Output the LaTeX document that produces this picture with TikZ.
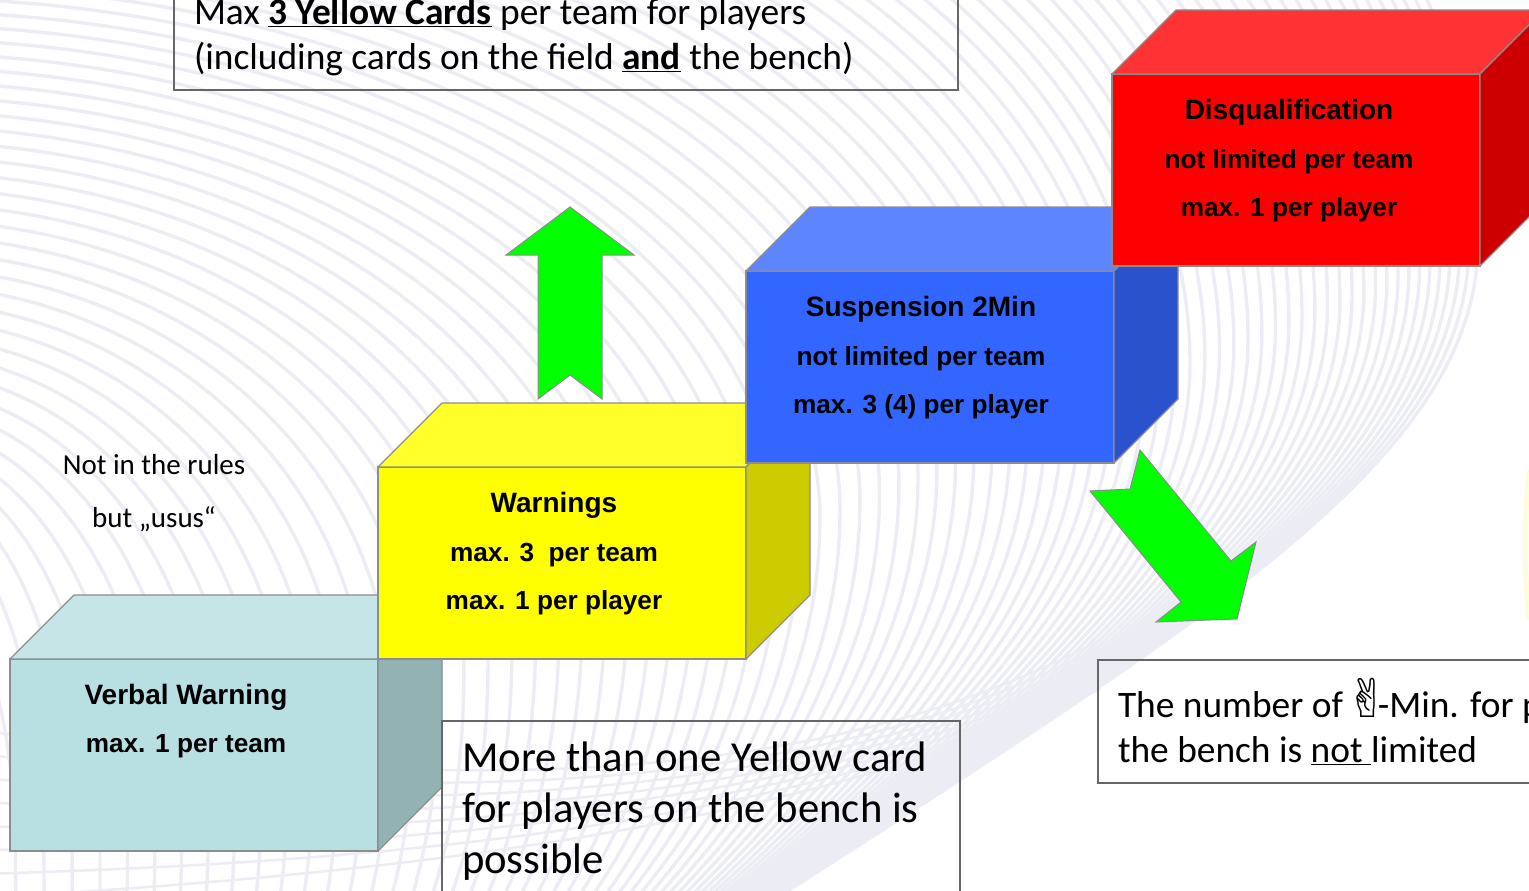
\documentclass[tikz,border=0pt]{standalone}
\usepackage{fontspec}
\setmainfont{Carlito}
\newfontfamily\arialfont{Liberation Sans}
\newfontfamily\handfont{DejaVu Sans}
\usepackage{tikz}
\usetikzlibrary{positioning, calc}
\definecolor{stripe}{HTML}{ECECF4}
\definecolor{edge}{HTML}{8C8C8C}
\definecolor{noteedge}{HTML}{666666}
\definecolor{verbalfront}{HTML}{B8DFE2}
\definecolor{verbaltop}{HTML}{C6E5E7}
\definecolor{verbalside}{HTML}{93B2B4}
\definecolor{warnfront}{HTML}{FFFF00}
\definecolor{warntop}{HTML}{FFFF29}
\definecolor{warnside}{HTML}{CCCC00}
\definecolor{suspfront}{HTML}{3366FF}
\definecolor{susptop}{HTML}{5C85FF}
\definecolor{suspside}{HTML}{2952CC}
\definecolor{disqfront}{HTML}{FF0000}
\definecolor{disqtop}{HTML}{FF3333}
\definecolor{disqside}{HTML}{CC0000}
\definecolor{arrowgreen}{HTML}{00FF00}
\definecolor{glow}{HTML}{FFFBDD}
\begin{document}
\begin{tikzpicture}[x=1pt, y=-1pt]
        \tikzstyle{cube} = [rectangle, minimum width=368pt, minimum height=192pt, inner sep=0pt, outer sep=0pt, draw=edge, line width=1.2pt]
        \tikzstyle{face} = [draw=edge, line width=1.2pt, line join=round]
        \tikzstyle{cubetext} = [align=center, inner sep=0pt, font=\arialfont\bfseries\fontsize{26.2}{48.5}\selectfont]
        \tikzstyle{note} = [rectangle, draw=noteedge, line width=1.3pt, inner xsep=20pt, align=flush left, outer sep=0pt]
        \tikzstyle{greenarrow} = [fill=arrowgreen, draw=edge, line width=1pt, line join=miter]
        \tikzstyle{swoosh} = [draw=stripe, line width=3.4pt]
        \newcommand{\headfont}{\fontsize{28}{48.5}\selectfont}

        \useasboundingbox (0,0) rectangle (1529,891);
        \clip (0,0) rectangle (1529,891);

        % background
        \foreach \i in {80,79,...,0} {
            \pgfmathsetmacro{\g}{9*\i+0.125*\i*\i}
            \pgfmathsetmacro{\Rx}{1478-\g}
            \pgfmathsetmacro{\Ry}{242+0.42*\g}
            \pgfmathsetmacro{\Ty}{-450+0.66*\g}
            \pgfmathsetmacro{\Tx}{min(max(-100,678-1.2*\g),\Rx-150)}
            \pgfmathsetmacro{\Ex}{800-0.75*\g}
            \pgfmathsetmacro{\Ey}{883+0.45*\g}
            \pgfmathsetmacro{\L}{0.55*veclen(\Rx-\Ex,\Ey-\Ry)}
            \draw [swoosh] (\Tx,\Ty) .. controls ({\Tx+0.55*(\Rx-\Tx)},\Ty) and (\Rx,{\Ry-0.55*(\Ry-\Ty)}) .. (\Rx,\Ry)
                .. controls (\Rx,{\Ry+0.32*(\Ey-\Ry)}) and ({\Ex+0.84*\L},{\Ey-0.54*\L}) .. (\Ex,\Ey);
        }
        \foreach \j in {0,...,7} {
            \draw [swoosh, line width=2.5pt] (1100,{640+7*\j}) .. controls (800,{800+4*\j}) and (400,{790+12*\j}) .. (-20,{730+24*\j});
        }
        \draw [draw=glow, line width=5pt] (1529,470) .. controls (1524,520) and (1524,570) .. (1529,620);

        % cubes
        \node (verbal) [cube, fill=verbalfront, anchor=north west] at (10,659) {};
        \fill [verbaltop, face] (verbal.north west) -- ++(64,-64) -- ++(368,0) -- (verbal.north east) -- cycle;
        \fill [verbalside, face] (verbal.north east) -- ++(64,-64) -- ++(0,192) -- (verbal.south east) -- cycle;

        \node (warn) [cube, fill=warnfront, anchor=south west] at (verbal.north east) {};
        \fill [warntop, face] (warn.north west) -- ++(64,-64) -- ++(368,0) -- (warn.north east) -- cycle;
        \fill [warnside, face] (warn.north east) -- ++(64,-64) -- ++(0,192) -- (warn.south east) -- cycle;

        \node (susp) [cube, fill=suspfront, anchor=south west, yshift=4pt] at (warn.north east) {};
        \fill [susptop, face] (susp.north west) -- ++(64,-64) -- ++(368,0) -- (susp.north east) -- cycle;
        \fill [suspside, face] (susp.north east) -- ++(64,-64) -- ++(0,192) -- (susp.south east) -- cycle;

        \node (disq) [cube, fill=disqfront, anchor=south west, xshift=-2pt, yshift=5pt] at (susp.north east) {};
        \fill [disqtop, face] (disq.north west) -- ++(64,-64) -- ++(368,0) -- (disq.north east) -- cycle;
        \fill [disqside, face] (disq.north east) -- ++(64,-64) -- ++(0,192) -- (disq.south east) -- cycle;

        \node (verbaltext) [cubetext] at (186,721) {{\headfont Verbal Warning}\\max. 1 per team};
        \node (warntext) [cubetext] at (554,554) {{\headfont Warnings}\\max. 3~~per team\\max. 1 per player};
        \node (susptext) [cubetext] at (921,358) {{\headfont Suspension 2Min}\\not limited per team\\max. 3 (4) per player};
        \node (disqtext) [cubetext] at (1289,161) {{\headfont Disqualification}\\not limited per team\\max. 1 per player};

        % arrows
        \filldraw [greenarrow] (570,207) -- (634,255) -- (602,255) -- (602,399) -- (570,375) -- (538,399) -- (538,255) -- (506,255) -- cycle;
        \filldraw [greenarrow] (1140,450) -- (1231,561) -- (1256,542) -- (1237,619) -- (1156,622) -- (1181,602) -- (1090,491) -- (1130,489) -- cycle;

        % notes
        \node (cardsnote) [note, anchor=south west, text width=744pt, inner ysep=14.3pt, font=\fontsize{37.4}{45}\selectfont] at (174,90) {Max \textbf{\underline{3 Yellow Cards}} per team for players\\(including cards on the field \textbf{\underline{and}} the bench)};
        \node (benchnote) [note, anchor=north west, text width=478pt, minimum height=180pt, font=\fontsize{42.7}{51}\selectfont] at (442,721) {More than one Yellow card\\for players on the bench is\\possible};
        \node (minnote) [note, anchor=north west, text width=500pt, minimum height=123pt, font=\fontsize{37.4}{45}\selectfont] at (1098,660) {\rule{0pt}{40pt}The number of \hspace{-6pt}{\handfont\fontsize{53}{45}\selectfont ✌}\hspace{-12pt}-Min. for p\\the bench is \underline{not\ }limited};
        \node (rulesnote) [align=center, inner sep=0pt, font=\fontsize{29}{53}\selectfont] at (154,493) {Not in the rules\\but „usus“};
    \end{tikzpicture}
\end{document}
